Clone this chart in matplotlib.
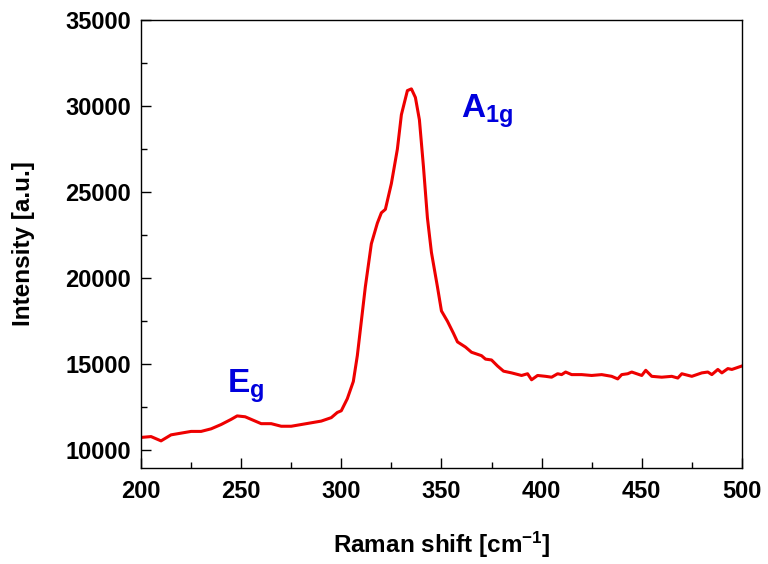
import matplotlib
matplotlib.use("Agg")
import matplotlib.pyplot as plt
from matplotlib.ticker import MultipleLocator

plt.rcParams['font.family'] = ['Liberation Sans', 'DejaVu Sans']
plt.rcParams['mathtext.fontset'] = 'custom'
plt.rcParams['mathtext.rm'] = 'Liberation Sans'
plt.rcParams['mathtext.bf'] = 'Liberation Sans:bold'
plt.rcParams['mathtext.it'] = 'Liberation Sans:italic'

raman_shift = [200, 205, 210, 215, 220, 225, 230, 235, 240, 245, 248, 252, 255, 260, 265,
               270, 275, 280, 285, 290, 295, 298, 300, 303, 306, 308, 310, 312, 315, 318,
               320, 322, 325, 328, 330, 333, 335, 337, 339, 341, 343, 345, 348, 350, 353,
               356, 358, 362, 365, 370, 372, 375, 378, 381, 385, 390, 393, 395, 398, 402,
               405, 408, 410, 412, 415, 420, 425, 430, 435, 438, 440, 443, 445, 450, 452,
               455, 460, 465, 468, 470, 475, 480, 483, 485, 488, 490, 493, 495, 500]
intensity = [10750, 10800, 10550, 10900, 11000, 11100, 11100, 11250, 11500, 11800, 12000,
             11950, 11800, 11550, 11550, 11400, 11400, 11500, 11600, 11700, 11900, 12200,
             12300, 13000, 14000, 15500, 17500, 19500, 22000, 23200, 23800, 24000, 25500,
             27500, 29500, 30900, 31000, 30500, 29200, 26500, 23500, 21500, 19500, 18100,
             17500, 16800, 16300, 16000, 15700, 15500, 15300, 15250, 14900, 14600, 14500,
             14350, 14450, 14100, 14350, 14300, 14250, 14450, 14400, 14550, 14400, 14400,
             14350, 14400, 14300, 14150, 14400, 14450, 14550, 14350, 14650, 14300, 14250,
             14300, 14200, 14450, 14300, 14500, 14550, 14400, 14700, 14500, 14750, 14700,
             14900]

fig = plt.figure(figsize=(7.68, 5.64), dpi=100)
ax = fig.add_axes([0.1836, 0.171, 0.7824, 0.7935])
ax.plot(raman_shift, intensity, color='#ee0000', lw=2.2)
ax.set_xlim(200, 500)
ax.set_ylim(9000, 35000)
ax.xaxis.set_major_locator(MultipleLocator(50))
ax.xaxis.set_minor_locator(MultipleLocator(25))
ax.yaxis.set_major_locator(MultipleLocator(5000))
ax.yaxis.set_minor_locator(MultipleLocator(2500))
ax.tick_params(which='both', direction='in', top=False, right=False, labelsize=17, width=1.0)
ax.tick_params(which='major', length=7)
ax.tick_params(which='minor', length=4)
ax.tick_params(axis='x', pad=9)
ax.tick_params(axis='y', pad=7)
for lab in ax.get_xticklabels() + ax.get_yticklabels():
    lab.set_fontweight('bold')
for s in ax.spines.values():
    s.set_linewidth(1.0)
ax.set_xlabel(r'Raman shift [cm$^{\mathbf{-1}}$]', fontsize=17.5, fontweight='bold', labelpad=19)
ax.set_ylabel('Intensity [a.u.]', fontsize=17.5, fontweight='bold', labelpad=22)
ax.text(360, 29700, r'$\mathbf{A_{1g}}$', color='#0000dd', fontsize=24, ha='left', va='center')
ax.text(243, 13700, r'$\mathbf{E_{g}}$', color='#0000dd', fontsize=24, ha='left', va='center')
fig.savefig('out.png', dpi=100)
